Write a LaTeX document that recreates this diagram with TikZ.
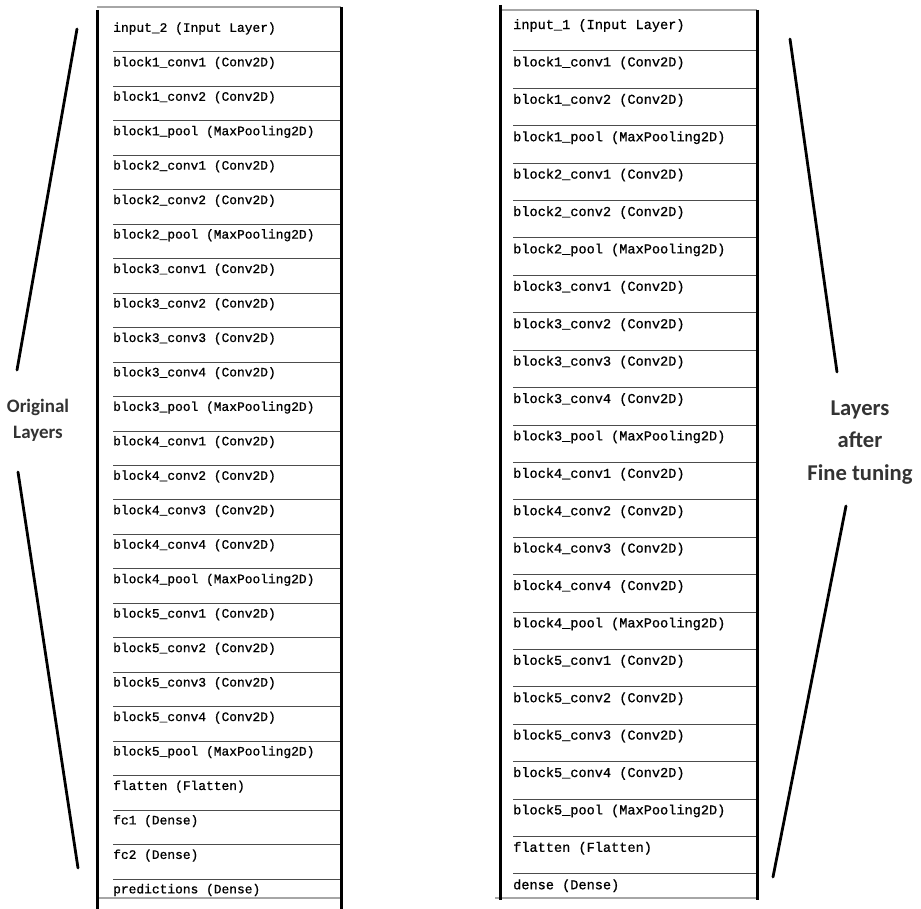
\documentclass[tikz,border=0pt]{standalone}
\usepackage{fontspec}
\setmainfont{Carlito}
\newfontfamily\laymono{Liberation Mono}[RawFeature={embolden=0.9}]
\begin{document}
\begin{tikzpicture}[x=1pt, y=-1pt]
\tikzset{
  layerL/.style={anchor=west, inner sep=0pt, font=\laymono\fontsize{12.9}{14}\selectfont},
  layerR/.style={anchor=west, inner sep=0pt, font=\laymono\fontsize{13.6}{15}\selectfont},
  sep/.style={draw=black!70, line width=1pt},
  rim/.style={draw=black!35, line width=1.5pt},
  border/.style={line width=3pt},
  slant/.style={line width=2.8pt, line cap=round},
  side/.style={align=center, text=black!80, font=\bfseries}
}
\useasboundingbox (0,0) rectangle (921,909);
% left table
\draw[rim] (97,7) -- (341,7);
\draw[rim] (97,898) -- (341,898);
\foreach \txt [count=\k from 0] in {input\_2 (Input Layer), block1\_conv1 (Conv2D), block1\_conv2 (Conv2D), block1\_pool (MaxPooling2D), block2\_conv1 (Conv2D), block2\_conv2 (Conv2D), block2\_pool (MaxPooling2D), block3\_conv1 (Conv2D), block3\_conv2 (Conv2D), block3\_conv3 (Conv2D), block3\_conv4 (Conv2D), block3\_pool (MaxPooling2D), block4\_conv1 (Conv2D), block4\_conv2 (Conv2D), block4\_conv3 (Conv2D), block4\_conv4 (Conv2D), block4\_pool (MaxPooling2D), block5\_conv1 (Conv2D), block5\_conv2 (Conv2D), block5\_conv3 (Conv2D), block5\_conv4 (Conv2D), block5\_pool (MaxPooling2D), flatten (Flatten), fc1 (Dense), fc2 (Dense), predictions (Dense)} {
  \node[layerL] (L\k) at (113,28.5+\k*34.46) {\txt};
  \ifnum\k>0 \draw[sep] (113,17.5+\k*34.46) -- (341,17.5+\k*34.46); \fi
}
\draw[border] (97,10) -- (97,909);
\draw[border] (341,7) -- (341,909);
% right table
\draw[rim] (500,10) -- (757,10);
\draw[rim] (495,898) -- (757,898);
\foreach \txt [count=\k from 0] in {input\_1 (Input Layer), block1\_conv1 (Conv2D), block1\_conv2 (Conv2D), block1\_pool (MaxPooling2D), block2\_conv1 (Conv2D), block2\_conv2 (Conv2D), block2\_pool (MaxPooling2D), block3\_conv1 (Conv2D), block3\_conv2 (Conv2D), block3\_conv3 (Conv2D), block3\_conv4 (Conv2D), block3\_pool (MaxPooling2D), block4\_conv1 (Conv2D), block4\_conv2 (Conv2D), block4\_conv3 (Conv2D), block4\_conv4 (Conv2D), block4\_pool (MaxPooling2D), block5\_conv1 (Conv2D), block5\_conv2 (Conv2D), block5\_conv3 (Conv2D), block5\_conv4 (Conv2D), block5\_pool (MaxPooling2D), flatten (Flatten), dense (Dense)} {
  \node[layerR] (R\k) at (513,25.5+\k*37.4) {\txt};
  \ifnum\k>0 \draw[sep] (513,13.6+\k*37.4) -- (757,13.6+\k*37.4); \fi
}
\draw[border] (500,5) -- (500,900);
\draw[border] (757,10) -- (757,900);
% side labels
\node[side, font=\bfseries\fontsize{19}{26}\selectfont] (orig) at (38,420) {Original\\Layers};
\node[side, font=\bfseries\fontsize{22.6}{32.5}\selectfont] (fine) at (860,442.5) {Layers\\after\\Fine tuning};
\coordinate (lt1) at (77,29);
\coordinate (lt2) at (17,370);
\coordinate (lb1) at (18,472);
\coordinate (lb2) at (78,868);
\coordinate (rt1) at (790,39);
\coordinate (rt2) at (837,372);
\coordinate (rb1) at (846,506);
\coordinate (rb2) at (773,877);
\draw[slant] (lt1) -- (lt2);
\draw[slant] (lb1) -- (lb2);
\draw[slant] (rt1) -- (rt2);
\draw[slant] (rb1) -- (rb2);
\end{tikzpicture}
\end{document}
